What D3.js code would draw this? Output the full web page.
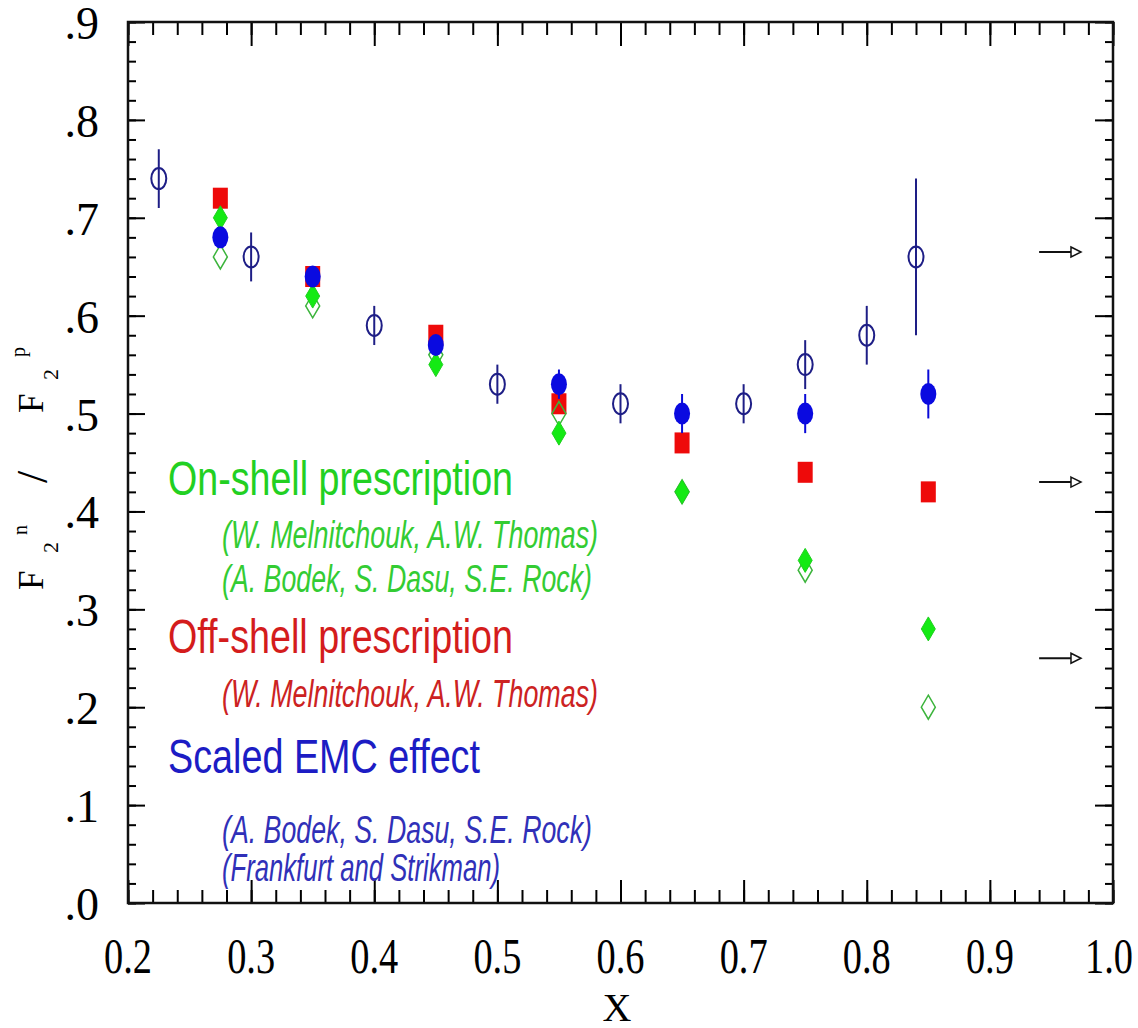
<!DOCTYPE html>
<html>
<head>
<meta charset="utf-8">
<script src="https://cdn.jsdelivr.net/npm/d3@7"></script>
<style>
  body { margin: 0; background: #fff; }
  svg { display: block; }
</style>
</head>
<body>
<svg id="chart" width="1138" height="1028"></svg>
<script>
// measured data points (open circles, navy)
var dataX   = [0.225, 0.30, 0.40, 0.50, 0.60, 0.70, 0.75, 0.80, 0.84];
var dataY   = [0.74, 0.66, 0.59, 0.53, 0.51, 0.51, 0.55, 0.58, 0.66];
var dataErr = [0.03, 0.025, 0.02, 0.02, 0.02, 0.02, 0.025, 0.03, 0.08];

// model extractions at the same x bins
var modelX     = [0.275, 0.35, 0.45, 0.55, 0.65, 0.75, 0.85];
var onShellMT  = [0.70, 0.62, 0.55, 0.48, 0.42, 0.35, 0.28];   // filled diamonds
var onShellBDR = [0.66, 0.61, 0.56, 0.50, 0.42, 0.34, 0.20];   // open diamonds
var offShell   = [0.72, 0.64, 0.58, 0.51, 0.47, 0.44, 0.42];   // red squares
var emc        = [0.68, 0.64, 0.57, 0.53, 0.50, 0.50, 0.52];   // blue circles
var emcErr     = [0, 0.01, 0, 0.015, 0.02, 0.02, 0.025];

// limit arrows on the right
var arrowY = [0.665, 0.43, 0.25];
var arrowFrom = 0.94, arrowTo = 0.974;

var xTickLabels = ["0.2","0.3","0.4","0.5","0.6","0.7","0.8","0.9","1.0"];
var yTickLabels = [".0",".1",".2",".3",".4",".5",".6",".7",".8",".9"];

var legendLines = [
  {text: "On-shell prescription", cls: "big", color: "#22d022"},
  {text: "(W. Melnitchouk, A.W. Thomas)", cls: "ref", color: "#33cc33"},
  {text: "(A. Bodek, S. Dasu, S.E. Rock)", cls: "ref", color: "#33cc33"},
  {text: "Off-shell prescription", cls: "big", color: "#d41c1c"},
  {text: "(W. Melnitchouk, A.W. Thomas)", cls: "ref", color: "#cc2222"},
  {text: "Scaled EMC effect", cls: "big", color: "#1c1cc4"},
  {text: "(A. Bodek, S. Dasu, S.E. Rock)", cls: "ref", color: "#3030b8"},
  {text: "(Frankfurt and Strikman)", cls: "ref", color: "#3030b8"}
];

(function() {
var svg = d3.select("#chart");
var pLeft = 128, pRight = 1113, pTop = 22, pBottom = 903;

var x = d3.scaleLinear().domain([0.2, 1.0]).range([pLeft, pRight]);
var y = d3.scaleLinear().domain([0, 0.9]).range([pBottom, pTop]);

// ---- axes / frame ----
var xMinor = x.ticks(40), xMajor = x.ticks(8);
var yMinor = y.ticks(45), yMajor = y.ticks(9);

function styleAxis(g) {
  g.select(".domain").remove();
  g.selectAll(".tick line").attr("stroke", "#000").attr("stroke-width", 2);
  g.selectAll(".tick text").remove();
}

svg.append("g").attr("transform", "translate(0," + pBottom + ")")
  .call(d3.axisBottom(x).tickValues(xMinor).tickSize(-13)).call(styleAxis);
svg.append("g").attr("transform", "translate(0," + pBottom + ")")
  .call(d3.axisBottom(x).tickValues(xMajor).tickSize(-23)).call(styleAxis);
svg.append("g").attr("transform", "translate(0," + pTop + ")")
  .call(d3.axisTop(x).tickValues(xMinor).tickSize(-13)).call(styleAxis);
svg.append("g").attr("transform", "translate(0," + pTop + ")")
  .call(d3.axisTop(x).tickValues(xMajor).tickSize(-24)).call(styleAxis);

svg.append("g").attr("transform", "translate(" + pLeft + ",0)")
  .call(d3.axisLeft(y).tickValues(yMinor).tickSize(-8)).call(styleAxis);
svg.append("g").attr("transform", "translate(" + pLeft + ",0)")
  .call(d3.axisLeft(y).tickValues(yMajor).tickSize(-17)).call(styleAxis);
svg.append("g").attr("transform", "translate(" + pRight + ",0)")
  .call(d3.axisRight(y).tickValues(yMinor).tickSize(-8)).call(styleAxis);
svg.append("g").attr("transform", "translate(" + pRight + ",0)")
  .call(d3.axisRight(y).tickValues(yMajor).tickSize(-18)).call(styleAxis);

svg.append("rect")
  .attr("x", pLeft).attr("y", pTop)
  .attr("width", pRight - pLeft).attr("height", pBottom - pTop)
  .attr("fill", "none").attr("stroke", "#111").attr("stroke-width", 2.5);

// tick labels
svg.append("g").selectAll("text").data(xMajor).join("text")
  .attr("x", function(d, i) { return x(d) - (i === xMajor.length - 1 ? 4 : 0); })
  .attr("y", 973)
  .attr("text-anchor", "middle")
  .attr("textLength", 48).attr("lengthAdjust", "spacingAndGlyphs")
  .style("font-family", "'Liberation Serif', 'DejaVu Serif', serif")
  .style("font-size", "50px")
  .text(function(d, i) { return xTickLabels[i]; });

svg.append("g").selectAll("text").data(yMajor).join("text")
  .attr("x", 99)
  .attr("y", function(d) { return y(d) + 17; })
  .attr("text-anchor", "end")
  .style("font-family", "'Liberation Serif', 'DejaVu Serif', serif")
  .style("font-size", "46px")
  .text(function(d, i) { return yTickLabels[i]; });

// axis titles
svg.append("text")
  .attr("x", 617).attr("y", 1021)
  .attr("text-anchor", "middle")
  .style("font-family", "'Liberation Serif', serif")
  .style("font-size", "40px")
  .text("X");

var ytitle = svg.append("text")
  .attr("transform", "translate(43,590) rotate(-90)")
  .style("font-family", "'Liberation Serif', serif")
  .style("font-size", "35px");
ytitle.append("tspan").attr("x", 0).attr("y", 0).text("F");
ytitle.append("tspan").attr("x", 37).attr("y", 15).style("font-size", "22px").text("2");
ytitle.append("tspan").attr("x", 55).attr("y", -16).style("font-size", "20px").text("n");
ytitle.append("tspan").attr("x", 107).attr("y", 4).style("font-size", "44px").text("/");
ytitle.append("tspan").attr("x", 177).attr("y", 0).text("F");
ytitle.append("tspan").attr("x", 210).attr("y", 15).style("font-size", "22px").text("2");
ytitle.append("tspan").attr("x", 233).attr("y", -18).style("font-size", "20px").text("p");

// ---- legend text ----
var legendY = [495, 548, 592, 653, 707, 773, 843, 881];
var legendLen = [345, 376, 370, 345, 376, 312, 370, 278];
svg.append("g").selectAll("text").data(legendLines).join("text")
  .attr("x", function(d) { return d.cls === "big" ? 168 : 222; })
  .attr("y", function(d, i) { return legendY[i]; })
  .attr("textLength", function(d, i) { return legendLen[i]; })
  .attr("lengthAdjust", "spacingAndGlyphs")
  .style("font-family", "'Liberation Sans', Arial, sans-serif")
  .style("font-size", function(d) { return d.cls === "big" ? "49px" : "38px"; })
  .style("font-style", function(d) { return d.cls === "big" ? "normal" : "italic"; })
  .attr("fill", function(d) { return d.color; })
  .text(function(d) { return d.text; });

// ---- markers ----
function diamond(cx, cy) {
  return "M" + cx + "," + (cy - 12) + "L" + (cx + 7) + "," + cy +
         "L" + cx + "," + (cy + 12) + "L" + (cx - 7) + "," + cy + "Z";
}

// red squares (off-shell)
svg.append("g").selectAll("rect").data(modelX).join("rect")
  .attr("x", function(d) { return x(d) - 7.5; })
  .attr("y", function(d, i) { return y(offShell[i]) - 10.5; })
  .attr("width", 15).attr("height", 21)
  .attr("fill", "#ee0a0a");

// open diamonds
svg.append("g").selectAll("path").data(modelX).join("path")
  .attr("d", function(d, i) { return diamond(x(d), y(onShellBDR[i])); })
  .attr("fill", "none").attr("stroke", "#3cb43c").attr("stroke-width", 1.5);

// filled diamonds
svg.append("g").selectAll("path").data(modelX).join("path")
  .attr("d", function(d, i) { return diamond(x(d), y(onShellMT[i])); })
  .attr("fill", "#14ea14").attr("stroke", "#20d020").attr("stroke-width", 1);

// blue EMC circles with error bars
svg.append("g").selectAll("line").data(modelX).join("line")
  .attr("x1", function(d) { return x(d); }).attr("x2", function(d) { return x(d); })
  .attr("y1", function(d, i) { return y(emc[i] + emcErr[i]); })
  .attr("y2", function(d, i) { return y(emc[i] - emcErr[i]); })
  .attr("stroke", "#0a0ad8").attr("stroke-width", 2);
svg.append("g").selectAll("ellipse").data(modelX).join("ellipse")
  .attr("cx", function(d) { return x(d); })
  .attr("cy", function(d, i) { return y(emc[i]); })
  .attr("rx", 8).attr("ry", 11)
  .attr("fill", "#0a0ae0");

// measured data: open circles with error bars
svg.append("g").selectAll("line").data(dataX).join("line")
  .attr("x1", function(d) { return x(d); }).attr("x2", function(d) { return x(d); })
  .attr("y1", function(d, i) { return y(dataY[i] + dataErr[i]); })
  .attr("y2", function(d, i) { return y(dataY[i] - dataErr[i]); })
  .attr("stroke", "#1e1e86").attr("stroke-width", 2);
svg.append("g").selectAll("ellipse").data(dataX).join("ellipse")
  .attr("cx", function(d) { return x(d); })
  .attr("cy", function(d, i) { return y(dataY[i]); })
  .attr("rx", 7.5).attr("ry", 10.5)
  .attr("fill", "none").attr("stroke", "#1e1e86").attr("stroke-width", 2);

// arrows
var arrows = svg.append("g").selectAll("g").data(arrowY).join("g");
arrows.append("line")
  .attr("x1", x(arrowFrom)).attr("x2", x(arrowTo) - 3)
  .attr("y1", function(d) { return y(d); }).attr("y2", function(d) { return y(d); })
  .attr("stroke", "#111").attr("stroke-width", 2);
arrows.append("path")
  .attr("d", function(d) {
    var tx = x(arrowTo), ty = y(d);
    return "M" + (tx - 10) + "," + (ty - 5) + "L" + tx + "," + ty + "L" + (tx - 10) + "," + (ty + 5) + "Z";
  })
  .attr("fill", "#fff").attr("stroke", "#111").attr("stroke-width", 1.5);
})();
</script>
</body>
</html>
